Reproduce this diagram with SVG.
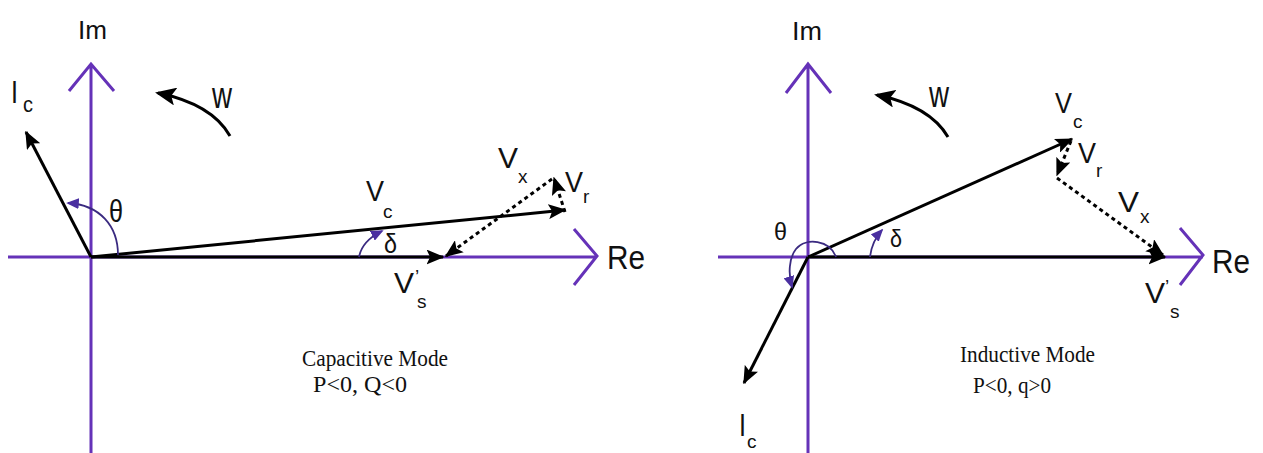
<svg xmlns="http://www.w3.org/2000/svg" width="1263" height="453" viewBox="0 0 1263 453">
<style>
.ax{stroke:#6532b8;stroke-width:3;fill:none}
.vec{stroke:#000;stroke-width:3;fill:none}
.dot{stroke:#000;stroke-width:3;fill:none;stroke-dasharray:4 3.5}
.arc{stroke:#3a2a80;stroke-width:1.8;fill:none}
.s{font-family:"Liberation Sans",Arial,sans-serif;fill:#111}
.t{font-family:"Liberation Serif","Times New Roman",serif;fill:#111;font-size:24px}
.big{font-size:30px}
.sub{font-size:19px}
</style>
<defs>
<marker id="ah" markerWidth="6" markerHeight="5" refX="5.5" refY="2.5" orient="auto" markerUnits="strokeWidth">
<path d="M0,0 L6,2.5 L0,5 L1.2,2.5 Z" fill="#000"/>
</marker>
<marker id="ahp" markerWidth="7" markerHeight="6" refX="6" refY="3" orient="auto" markerUnits="strokeWidth">
<path d="M0,0 L7,3 L0,6 Z" fill="#4a2fa0"/>
</marker>
<marker id="ahw" markerWidth="7" markerHeight="6" refX="6" refY="3" orient="auto" markerUnits="strokeWidth">
<path d="M0,0 L7,3 L0,6 L1.5,3 Z" fill="#000"/>
</marker>
</defs>
<rect width="1263" height="453" fill="#fff"/>

<g id="left-axes">
<path class="ax" d="M91,453 V64 M69,91 L91,64 L114,91"/>
<path class="ax" d="M8,257 H597 M574,229 L597,256 L574,285"/>
<text class="s" x="78" y="39" font-size="25" textLength="29" lengthAdjust="spacingAndGlyphs">Im</text>
<text class="s" x="607" y="269" font-size="34" textLength="38" lengthAdjust="spacingAndGlyphs">Re</text>
</g>

<g id="left-connectors">
<line class="vec" x1="91" y1="257" x2="26" y2="132" marker-end="url(#ah)"/>
<line class="vec" x1="91" y1="257" x2="443" y2="257" marker-end="url(#ah)"/>
<line class="vec" x1="91" y1="257" x2="565" y2="210" marker-end="url(#ah)"/>
<line class="dot" x1="565" y1="212" x2="554" y2="178" marker-end="url(#ah)"/>
<line class="dot" x1="552" y1="179" x2="446" y2="256" marker-end="url(#ah)"/>
<path class="vec" d="M230,136 Q212,104 158,93" marker-end="url(#ahw)"/>
<path class="arc" d="M118,255 C118,226 100,205 68,203" marker-end="url(#ahp)"/>
<path class="arc" d="M359,257 Q362,241 382,231" marker-end="url(#ahp)"/>
</g>

<g id="left-labels">
<text class="s" x="11" y="103" font-size="31" textLength="7" lengthAdjust="spacingAndGlyphs">I</text><text class="s" x="23" y="112" font-size="22" textLength="10" lengthAdjust="spacingAndGlyphs">c</text>
<text class="s" x="212" y="108" font-size="36" textLength="20" lengthAdjust="spacingAndGlyphs">w</text>
<text class="s" x="109" y="222" font-size="32" textLength="14" lengthAdjust="spacingAndGlyphs">θ</text>
<text class="s big" x="366" y="201" textLength="18" lengthAdjust="spacingAndGlyphs">V</text><text class="s sub" x="383" y="218">c</text>
<text class="s" x="384" y="253" font-size="27" textLength="13" lengthAdjust="spacingAndGlyphs">δ</text>
<text class="s big" x="394" y="293" textLength="20" lengthAdjust="spacingAndGlyphs">V</text><text class="s sub" x="415" y="283">’</text><text class="s sub" x="417" y="308">s</text>
<text class="s big" x="498" y="168" textLength="20" lengthAdjust="spacingAndGlyphs">V</text><text class="s sub" x="518" y="183">x</text>
<text class="s big" x="565" y="192" textLength="18" lengthAdjust="spacingAndGlyphs">V</text><text class="s sub" x="583" y="203">r</text>
</g>

<g id="left-caption">
<text class="t" x="302" y="366" textLength="146" lengthAdjust="spacingAndGlyphs">Capacitive Mode</text>
<text class="t" x="313" y="392" textLength="94" lengthAdjust="spacingAndGlyphs">P&lt;0, Q&lt;0</text>
</g>

<g id="right-axes">
<path class="ax" d="M808,453 V64 M786,93 L808,64 L831,93"/>
<path class="ax" d="M718,257 H1203 M1180,228 L1203,255 L1180,285"/>
<text class="s" x="792" y="40" font-size="25" textLength="30" lengthAdjust="spacingAndGlyphs">Im</text>
<text class="s" x="1212" y="273" font-size="34" textLength="38" lengthAdjust="spacingAndGlyphs">Re</text>
</g>

<g id="right-connectors">
<line class="vec" x1="808" y1="257" x2="744" y2="383" marker-end="url(#ah)"/>
<line class="vec" x1="808" y1="257" x2="1165" y2="257" marker-end="url(#ah)"/>
<line class="vec" x1="808" y1="257" x2="1072" y2="139" marker-end="url(#ah)"/>
<line class="dot" x1="1071" y1="141" x2="1057" y2="175" marker-end="url(#ah)"/>
<line class="dot" x1="1057" y1="178" x2="1163" y2="255" marker-end="url(#ah)"/>
<path class="vec" d="M948,137 Q930,106 877,95" marker-end="url(#ahw)"/>
<path class="arc" d="M836,257 C830,240 806,237 796,249 C789,258 788,274 792,287" marker-end="url(#ahp)"/>
<path class="arc" d="M870,257 Q872,241 882,230" marker-end="url(#ahp)"/>
</g>

<g id="right-labels">
<text class="s" x="739" y="436" font-size="31" textLength="7" lengthAdjust="spacingAndGlyphs">I</text><text class="s sub" x="747" y="448">c</text>
<text class="s" x="929" y="107" font-size="36" textLength="20" lengthAdjust="spacingAndGlyphs">w</text>
<text class="s" x="774" y="240" font-size="24" textLength="13" lengthAdjust="spacingAndGlyphs">θ</text>
<text class="s" x="890" y="247" font-size="24" textLength="12" lengthAdjust="spacingAndGlyphs">δ</text>
<text class="s big" x="1055" y="113" textLength="17" lengthAdjust="spacingAndGlyphs">V</text><text class="s sub" x="1073" y="128">c</text>
<text class="s big" x="1078" y="163" textLength="18" lengthAdjust="spacingAndGlyphs">V</text><text class="s sub" x="1096" y="177">r</text>
<text class="s big" x="1118" y="212" textLength="21" lengthAdjust="spacingAndGlyphs">V</text><text class="s sub" x="1140" y="223">x</text>
<text class="s big" x="1145" y="303" textLength="20" lengthAdjust="spacingAndGlyphs">V</text><text class="s sub" x="1165" y="293">’</text><text class="s sub" x="1170" y="318">s</text>
</g>

<g id="right-caption">
<text class="t" x="960" y="362" textLength="135" lengthAdjust="spacingAndGlyphs">Inductive Mode</text>
<text class="t" x="973" y="393" textLength="78" lengthAdjust="spacingAndGlyphs">P&lt;0, q&gt;0</text>
</g>
</svg>
